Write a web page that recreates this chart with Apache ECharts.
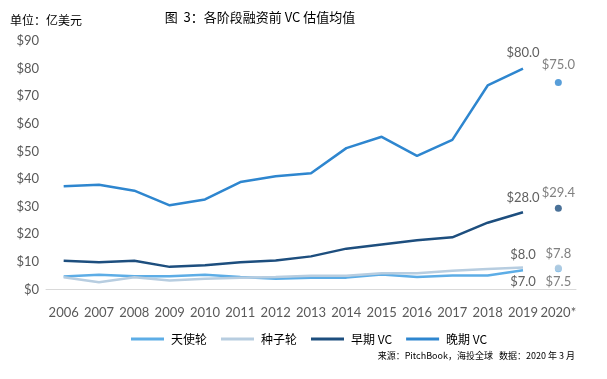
<!DOCTYPE html>
<html><head><meta charset="utf-8">
<script src="https://cdn.jsdelivr.net/npm/echarts@6/dist/echarts.min.js"></script>
<style>html,body{margin:0;padding:0;background:#fff}#c{width:607px;height:379px}</style>
</head><body><div id="c"></div>
<script>
const categories = ['2006','2007','2008','2009','2010','2011','2012','2013','2014','2015','2016','2017','2018','2019','2020*'];
const angel = [4.7, 5.3, 4.8, 4.8, 5.3, 4.5, 3.9, 4.3, 4.3, 5.4, 4.5, 5.1, 5.1, 7.0];
const seed = [4.4, 2.6, 4.4, 3.3, 3.9, 4.3, 4.5, 5.0, 5.0, 5.9, 5.9, 6.8, 7.4, 8.0];
const earlyVC = [10.4, 9.9, 10.4, 8.2, 8.8, 9.9, 10.5, 12.0, 14.8, 16.3, 17.8, 18.9, 24.2, 28.0];
const lateVC = [37.4, 37.9, 35.8, 30.5, 32.6, 38.9, 41.0, 42.1, 51.2, 55.3, 48.4, 54.2, 73.9, 80.0];
const forecast2020 = { angel: 7.5, seed: 7.8, earlyVC: 29.4, lateVC: 75.0 };
const yTicks = [0, 10, 20, 30, 40, 50, 60, 70, 80, 90];

const C = { angel: '#5dade6', seed: '#b7cde0', early: '#1d4e7e', late: '#2e86cf' };
const labelFont = { color: '#606060', fontSize: 13, fontFamily: 'Lato' };
const lastIdx = categories.length - 2;

function lineSeries(name, data, color, pos, dist) {
  return {
    name, type: 'line', data, symbol: 'circle', symbolSize: 0.1, showSymbol: true, smooth: false,
    lineStyle: { color, width: 2.5 }, itemStyle: { color },
    labelLayout: { hideOverlap: false },
    label: {
      show: true, position: pos, distance: dist, ...labelFont,
      formatter: p => p.dataIndex === lastIdx ? '$' + p.value.toFixed(1) : ''
    }
  };
}
function dotSeries(name, v, color, pos, dist) {
  const d = categories.map((c, i) => i === categories.length - 1 ? v : null);
  return {
    name: name + '2020', type: 'scatter', data: d, symbol: 'circle', symbolSize: 7,
    itemStyle: { color },
    label: { show: true, position: pos, distance: dist, ...labelFont,
      formatter: p => '$' + p.value.toFixed(1) }
  };
}

const chart = echarts.init(document.getElementById('c'), null, { renderer: 'canvas' });
chart.setOption({
  animation: false,
  backgroundColor: '#fff',
  title: [
    { text: '图  3：各阶段融资前 VC 估值均值', left: 260, top: 11, textAlign: 'center', padding: 0,
      textStyle: { fontSize: 13, fontWeight: 'normal', color: '#000', fontFamily: 'Noto Sans CJK SC' } },
    { text: '单位：亿美元', left: 10, top: 14, padding: 0,
      textStyle: { fontSize: 12, fontWeight: 'normal', color: '#000', fontFamily: 'Noto Sans CJK SC' } },
    { text: '来源：PitchBook，海投全球   数据：2020 年 3 月', right: 32, top: 351, padding: 0,
      textStyle: { fontSize: 9, fontWeight: 'normal', color: '#000', fontFamily: 'Noto Sans CJK SC' } }
  ],
  legend: {
    data: ['天使轮', '种子轮', '早期 VC', '晚期 VC'],
    left: 126, top: 328, itemWidth: 33, itemHeight: 3, itemGap: 14,
    icon: 'rect',
    textStyle: { fontSize: 12, color: '#000', fontFamily: 'Noto Sans CJK SC', padding: [0, 0, 0, 2] }
  },
  grid: { left: 46, width: 530, top: 41, bottom: 89.5, containLabel: false },
  xAxis: {
    type: 'category', data: categories, boundaryGap: true,
    axisLine: { lineStyle: { color: '#d9d9d9', width: 1 } },
    axisTick: { show: false },
    axisLabel: { margin: 17, color: '#595959', fontSize: 13, fontFamily: 'Lato', interval: 0 }
  },
  yAxis: {
    type: 'value', min: yTicks[0], max: yTicks[yTicks.length - 1], interval: 10,
    axisLine: { show: false }, axisTick: { show: false }, splitLine: { show: false },
    axisLabel: { margin: 7, color: '#595959', fontSize: 13, fontFamily: 'Lato', formatter: v => '$' + v }
  },
  series: [
    lineSeries('天使轮', angel, C.angel, 'bottom', 5),
    lineSeries('种子轮', seed, C.seed, 'top', 6),
    lineSeries('早期 VC', earlyVC, C.early, 'top', 8),
    lineSeries('晚期 VC', lateVC, C.late, 'top', 9),
    dotSeries('天使轮', forecast2020.angel, C.angel, 'bottom', 3),
    dotSeries('种子轮', forecast2020.seed, C.seed, 'top', 4),
    dotSeries('早期 VC', forecast2020.earlyVC, C.early, 'top', 6),
    dotSeries('晚期 VC', forecast2020.lateVC, C.late, 'top', 8)
  ]
});
</script></body></html>
